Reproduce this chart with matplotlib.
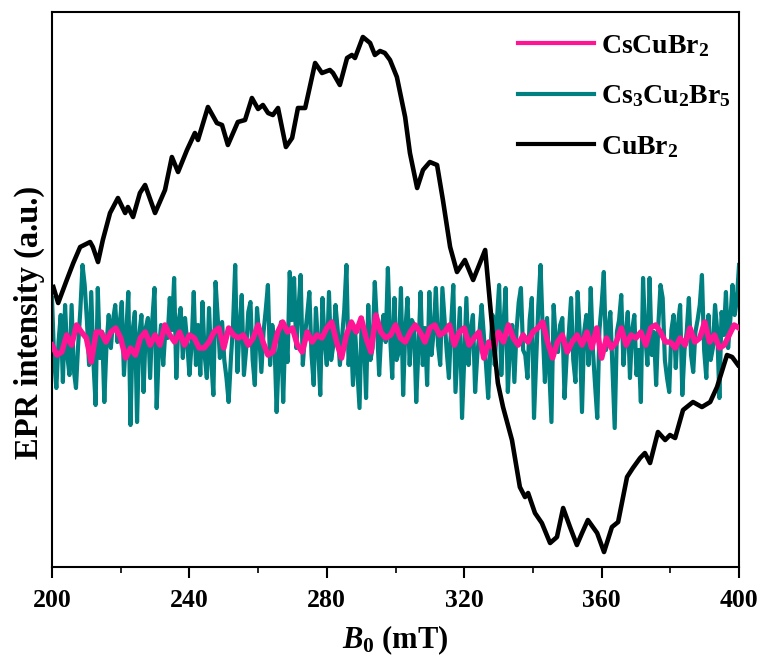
import numpy as np
import matplotlib
matplotlib.use("Agg")
import matplotlib.pyplot as plt

plt.rcParams['font.family'] = ['Liberation Serif', 'DejaVu Serif']
plt.rcParams['font.weight'] = 'bold'
plt.rcParams['mathtext.fontset'] = 'custom'
plt.rcParams['mathtext.rm'] = 'Liberation Serif:bold'
plt.rcParams['mathtext.bf'] = 'Liberation Serif:bold'
plt.rcParams['mathtext.it'] = 'Liberation Serif:bold:italic'

# ---- data (arbitrary units) ----
cubr2_B = [200.4, 201.8, 204.3, 206.2, 208.2, 211.1, 211.9, 213.4, 214.8, 216.9,
           219.2, 221.3, 222.1, 223.6, 225.6, 227.1, 230.0, 232.9, 234.9, 236.7,
           239.3, 241.6, 242.5, 245.4, 248.0, 249.5, 251.2, 254.1, 256.2, 258.2,
           260.0, 261.4, 262.9, 264.3, 265.8, 268.1, 269.9, 271.6, 273.7, 276.6,
           278.6, 280.9, 281.8, 283.8, 285.9, 287.3, 288.2, 290.5, 292.6, 294.0,
           295.5, 296.9, 298.4, 300.4, 302.8, 304.2, 306.3, 308.0, 310.0, 312.1,
           313.8, 315.9, 317.9, 320.2, 322.6, 326.1, 328.4, 329.8, 331.3, 333.9,
           336.2, 337.7, 338.6, 340.6, 342.6, 345.0, 347.0, 348.8, 350.8, 352.8,
           354.3, 356.0, 358.7, 360.7, 363.0, 364.8, 367.4, 369.1, 371.2, 372.6,
           374.1, 376.4, 378.5, 379.9, 381.4, 383.7, 386.6, 389.2, 391.6, 393.6,
           396.5, 398.0, 399.7]
cubr2_I = [53, 37, 60, 77, 93, 98, 93, 78, 100, 127,
           142, 127, 133, 123, 147, 155, 127, 150, 183, 168,
           190, 207, 200, 233, 217, 215, 195, 218, 220, 242,
           231, 235, 227, 225, 232, 193, 202, 232, 232, 277,
           267, 270, 267, 255, 282, 285, 282, 303, 297, 285,
           289, 287, 280, 263, 223, 187, 152, 170, 178, 175,
           140, 93, 68, 80, 60, 90, 3, -43, -67, -100,
           -147, -157, -153, -173, -183, -203, -197, -168, -187, -205,
           -193, -180, -193, -212, -187, -182, -137, -128, -118, -113,
           -123, -92, -100, -95, -98, -70, -62, -67, -62, -47,
           -15, -17, -25]

cs3cu2br5_I = [
    # 200-251 mT
    42, -20, -48, -2, 25, -42, 35, -15, -35, 35, -30, -48, -5, 30, 75, 55,
    20, -25, 48, -22, -65, 52, -18, 8, -62, -5, 25, -8, 20, 35, -2, 15,
    38, -35, 5, 48, -85, 10, 28, -82, 5, 25, -52, 12, 22, -38, 20, 52,
    -68, -10, 15, -25, 10, 2, 42, 10, 62, -38, 18, 32, -18, 22, -2, -35,
    -5, 48, -25, 15, -35, 38, -15, -38, 32, -20, -55, 58, 22, -18, 18, -20,
    -38, -62, -20, 15,
    # 251-300 mT
    75, -32, 10, 45, -35, -10, 28, 38, -20, -45, 32, 5, -32, 8, 30, 55,
    -25, 15, -2, -72, -15, 18, -62, 10, -22, 68, 20, 62, -8, 30, 65, -25,
    5, 25, 48, -15, -45, 32, -5, -55, 42, 0, -25, 48, -20, -5, 35, 10,
    -25, 2, 30, 75, -25, 10, -45, 8, -30, -68, 22, 5, -58, 35, -20, -8,
    58, 15, -35, 8, 25, -2, 72, 5, -38, 42, -20, -12,
    # 300-350 mT
    52, -55, 10, 42, -25, 20, 15, -62, -10, 48, -25, 12, -45, 48, -15, 8,
    52, -5, -25, 52, 20, -12, -38, 15, 55, -52, -10, 32, -78, -20, 42, -25,
    10, 25, -52, -15, 8, 35, 5, -25, -58, -10, 25, -25, 20, 55, -35, 15,
    52, -52, -5, 15, -42, 10, 38, 52, -10, -15, -38, 20, 42, -78, -20, 35,
    75, 10, -42, 22, -30, -82, 35, 0, -12, 15,
    # 350-400 mT
    22, -58, -15, 8, 42, -20, -42, 48, 5, -72, 8, 25, -25, 52, -10, -45,
    -78, 10, 35, 68, -10, 8, 28, -30, -88, 8, 20, 45, -25, 5, 28, -38,
    10, 25, -35, -10, -62, 62, 5, -25, 62, -15, 8, -45, 15, 55, 42, -20,
    -38, -52, 10, 25, -28, 15, 35, -55, -10, 8, 42, -15, -32, 8, 20, 35,
    65, -10, -38, 25, -20, -8, 35, 10, -58, 28, 5, 48, -8, 20, 55, 25,
    40, 75]

cscubr2_I = [
    -5, -15, -12, 5, -5, 15, 8, 2, -22, 8, 8, -2, 8, 12, 2, -18, -8, -15,
    2, 8, -5, 5, -5, 15, 5, -2, 8, -5, 5, 2, -8, -8, -2, 8, 12,
    -8, 12, 5, 2, 5, -5, 2, 15, -2, -15, -12, 8, 18, 8, 12, -5, -12, 8,
    -2, 5, 2, 12, 18, -2, -18, 5, 18, 8, 22, 2, -12, 25, 8, 2, 5,
    15, 2, -2, 8, 15, 8, -2, 12, 15, 5, 8, 15, -5, 8, 12, -5, 2, 8,
    -18, -2, -8, 8, -2, 15, 2, -5, 5, -2, 8, 12, 18, -2, -18, -2, 5,
    -12, -2, 5, -5, 8, -8, 12, -18, 2, -8, -2, 12, -5, 5, 2, 8, -5, 12,
    15, 8, -2, -2, -8, 2, -5, 12, -2, 2, 18, -2, 5, -8, -5, 5, 15, 12]

B_min, B_max = 200, 400
cs3_B = np.linspace(B_min, B_max, len(cs3cu2br5_I))
cs_B = np.linspace(B_min, B_max, len(cscubr2_I))

x_ticks = [200, 240, 280, 320, 360, 400]

# ---- figure ----
fig = plt.figure(figsize=(7.6, 6.66), dpi=100)
ax = fig.add_axes([0.0684, 0.1486, 0.904, 0.8334])

ax.plot(cs3_B, cs3cu2br5_I, color='#008080', lw=3.0, label=r'Cs$_{3}$Cu$_{2}$Br$_{5}$', zorder=2)
ax.plot(cs_B, cscubr2_I, color='#FF1493', lw=4.0, label=r'CsCuBr$_{2}$', zorder=3)
ax.plot(cubr2_B, cubr2_I, color='black', lw=3.3, label=r'CuBr$_{2}$', zorder=4)

ax.set_xlim(B_min, B_max)
ax.set_ylim(-227, 328)
ax.set_xticks(x_ticks)
ax.set_xticks(np.arange(220, 400, 40), minor=True)
ax.set_yticks([])
ax.tick_params(axis='x', which='major', direction='out', length=8, width=1.5,
               labelsize=18.5, pad=8)
ax.tick_params(axis='x', which='minor', direction='out', length=4, width=1.2)
for lab in ax.get_xticklabels():
    lab.set_fontweight('bold')
for s in ax.spines.values():
    s.set_linewidth(1.5)

ax.set_xlabel(r'$B_{0}$ (mT)', fontsize=22, fontweight='bold', labelpad=8)
ax.set_ylabel('EPR intensity (a.u.)', fontsize=23.5, fontweight='bold')
ax.yaxis.set_label_coords(-0.01, 0.44)

handles, labels = ax.get_legend_handles_labels()
order = [1, 0, 2]
leg = ax.legend([handles[i] for i in order], [labels[i] for i in order],
                loc='upper left', bbox_to_anchor=(0.678, 0.962), frameon=False,
                fontsize=20, handlelength=2.75, handletextpad=0.25,
                labelspacing=0.88, borderpad=0, borderaxespad=0)
for line in leg.get_lines():
    line.set_linewidth(3.0)

fig.savefig('out.png', dpi=100)
